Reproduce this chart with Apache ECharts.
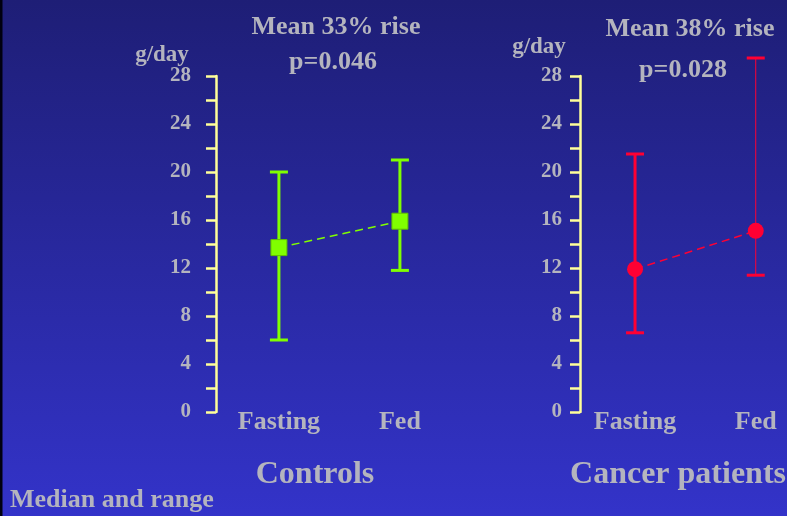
<!DOCTYPE html>
<html>
<head>
<meta charset="utf-8">
<script src="https://cdn.jsdelivr.net/npm/echarts@6/dist/echarts.min.js"></script>
<style>
  html, body { margin: 0; padding: 0; background: #1e1e78; }
  #chart { width: 787px; height: 516px; }
</style>
</head>
<body>
<div id="chart"></div>
<script>
// Daily output (g/day) before and after feeding, median with range
const phases = ['Fasting', 'Fed'];
const groupNames = ['Controls', 'Cancer patients'];
const riseLabels = ['Mean 33% rise', 'Mean 38% rise'];
const pValues = ['p=0.046', 'p=0.028'];
const unitLabel = 'g/day';
const footnote = 'Median and range';

const controlMedian = [13.7, 15.9];
const controlMin = [6.0, 11.8];
const controlMax = [20.0, 21.0];

const cancerMedian = [11.9, 15.1];
const cancerMin = [6.6, 11.4];
const cancerMax = [21.5, 29.5];

const yMin = 0;
const yMax = 28;
const yStep = 4;

const TEXT = '#b4b4be';
const AXIS = '#ffff99';
const GREEN = '#80ff00';
const RED = '#ff0033';
const FONT = '"Liberation Serif", "Times New Roman", serif';

// [phase index, value] pairs for the value-type x axis
function points(values) {
  return values.map((v, i) => [i, v]);
}
function rangeRows(mins, maxs) {
  return phases.map((p, i) => [i, mins[i], maxs[i]]);
}

// Vertical range bar with end caps; stem width may differ per point
function rangeRenderer(color, stemWidths) {
  return function (params, api) {
    const i = api.value(0);
    const lo = api.coord([i, api.value(1)]);
    const hi = api.coord([i, api.value(2)]);
    const half = 9;
    const w = stemWidths[params.dataIndex];
    return {
      type: 'group',
      children: [
        { type: 'line', shape: { x1: lo[0], y1: lo[1], x2: hi[0], y2: hi[1] },
          style: { stroke: color, lineWidth: w } },
        { type: 'line', shape: { x1: lo[0] - half, y1: lo[1], x2: lo[0] + half, y2: lo[1] },
          style: { stroke: color, lineWidth: 3 } },
        { type: 'line', shape: { x1: hi[0] - half, y1: hi[1], x2: hi[0] + half, y2: hi[1] },
          style: { stroke: color, lineWidth: 3 } }
      ]
    };
  };
}

function yAxisFor(gridIndex, margin) {
  return {
    gridIndex, type: 'value', min: yMin, max: yMax, interval: yStep,
    axisLine: { show: true, onZero: false, lineStyle: { color: AXIS, width: 2.5 } },
    axisTick: { show: true, length: 10, lineStyle: { color: AXIS, width: 2.5 } },
    minorTick: { show: true, splitNumber: 2, length: 10, lineStyle: { color: AXIS, width: 2.5 } },
    splitLine: { show: false },
    axisLabel: { color: TEXT, fontFamily: FONT, fontWeight: 'bold', fontSize: 21, margin }
  };
}

function xAxisFor(gridIndex, min, max) {
  return {
    gridIndex, type: 'value', min, max,
    axisLine: { show: false, onZero: false }, axisTick: { show: false }, splitLine: { show: false },
    axisLabel: {
      customValues: phases.map((p, i) => i),
      formatter: (v) => phases[Math.round(v)],
      color: TEXT, fontFamily: FONT, fontWeight: 'bold', fontSize: 26, margin: -3
    }
  };
}

function textEl(str, x, y, size, align) {
  return {
    type: 'text', x, y,
    style: { text: str, fill: TEXT, font: 'bold ' + size + 'px ' + FONT,
             align: align || 'center', verticalAlign: 'middle' }
  };
}

const chart = echarts.init(document.getElementById('chart'));
chart.setOption({
  animation: false,
  backgroundColor: {
    type: 'linear', x: 0, y: 0, x2: 0, y2: 1,
    colorStops: [{ offset: 0, color: '#1e1e76' }, { offset: 1, color: '#3333c9' }]
  },
  grid: [
    { left: 216, top: 76, width: 242, height: 336 },
    { left: 580, top: 76, width: 207, height: 336 }
  ],
  xAxis: [xAxisFor(0, -0.52, 1.48), xAxisFor(1, -0.456, 1.259)],
  yAxis: [yAxisFor(0, 25), yAxisFor(1, 18)],
  graphic: [
    { type: 'rect', left: 0, top: 0, shape: { width: 2.5, height: 516 }, style: { fill: '#000010' } },
    textEl(riseLabels[0], 336, 27, 26),
    textEl(pValues[0], 333, 62, 26),
    textEl(riseLabels[1], 690, 29, 26),
    textEl(pValues[1], 683, 70, 26),
    textEl(unitLabel, 162, 55, 23),
    textEl(unitLabel, 539, 47, 23),
    textEl(groupNames[0], 315, 475, 32),
    textEl(groupNames[1], 678, 475, 32),
    textEl(footnote, 10, 500, 26, 'left')
  ],
  series: [
    // Controls
    { type: 'line', xAxisIndex: 0, yAxisIndex: 0, data: points(controlMedian), symbol: 'none',
      lineStyle: { color: GREEN, width: 1.5, type: [8, 5] }, z: 2 },
    { type: 'custom', xAxisIndex: 0, yAxisIndex: 0, data: rangeRows(controlMin, controlMax),
      renderItem: rangeRenderer(GREEN, [3, 3]), z: 3 },
    { type: 'scatter', xAxisIndex: 0, yAxisIndex: 0, data: points(controlMedian), symbol: 'rect',
      symbolSize: 16, itemStyle: { color: GREEN, borderColor: '#60c000', borderWidth: 1, opacity: 1 }, z: 4 },
    // Cancer patients
    { type: 'line', xAxisIndex: 1, yAxisIndex: 1, data: points(cancerMedian), symbol: 'none',
      lineStyle: { color: RED, width: 1.5, type: [8, 5] }, z: 2 },
    { type: 'custom', xAxisIndex: 1, yAxisIndex: 1, data: rangeRows(cancerMin, cancerMax),
      renderItem: rangeRenderer(RED, [3, 1]), z: 3 },
    { type: 'scatter', xAxisIndex: 1, yAxisIndex: 1, data: points(cancerMedian), symbol: 'circle',
      symbolSize: 16, itemStyle: { color: RED, opacity: 1 }, z: 4 }
  ]
});
</script>
</body>
</html>
